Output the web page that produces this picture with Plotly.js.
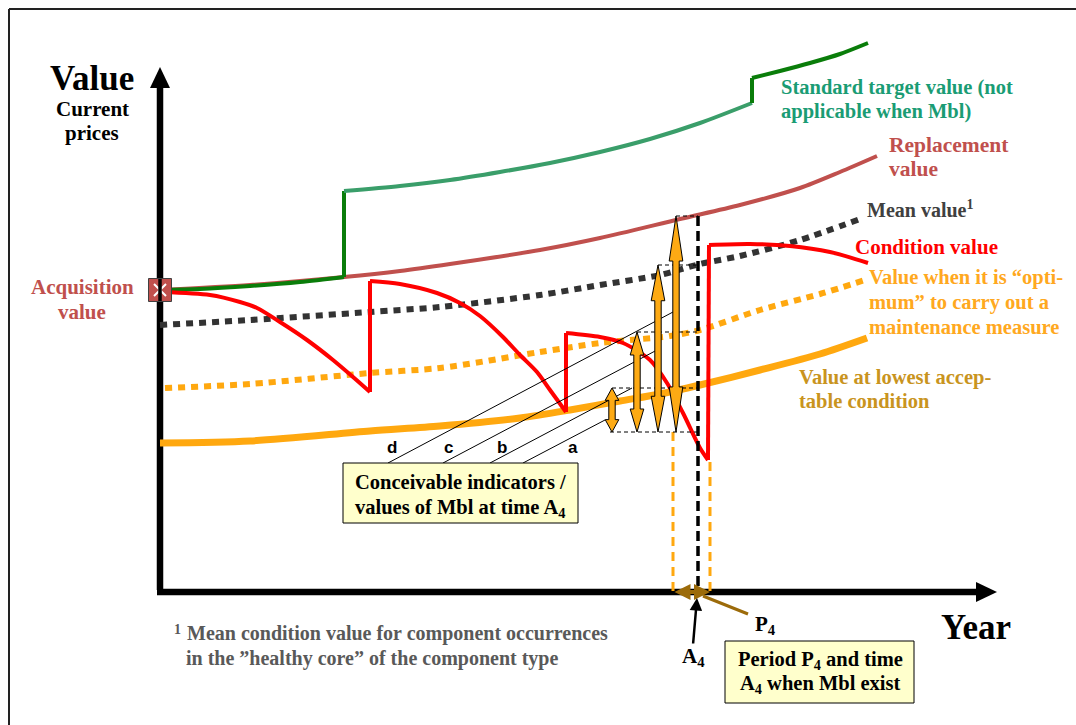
<!DOCTYPE html>
<html><head><meta charset="utf-8">
<script src="https://cdn.plot.ly/plotly-3.0.1.min.js"></script>
<style>html,body{margin:0;padding:0;background:#fff}#chart{width:1076px;height:725px}</style>
</head><body><div id="chart"></div>
<script>
// ---- DATA (x = time from origin, y = value) ----
// Standard target value: three segments separated by step increases
const targetX = [0,40,90,140,184, 184,240,290,340,390,440,490,540,592, 592,620,650,680,708];
const targetY = [302,303,306,310,315, 401,406,412,420,429,440,453,469,489, 514,521,529,538,549];
const targetBreaks = [0,5,14,19];
const replX = [0,90,184,240,290,380,440,520,580,640,680,717];
const replY = [302,307,315,321,328,342,354,373,387,404,420,436];
const meanX = [0,90,210,280,380,440,500,540,580,640,700];
const meanY = [267,272,280,285,297,307,317,328,336,352,373];
const optX = [5,90,210,280,380,440,510,540,600,660,705];
const optY = [204,208,219,224,240,249,256,262,282,298,312];
const lowX = [0,90,210,280,360,410,460,500,540,600,660,707];
const lowY = [149,151,161,166,174,182,191,198,207,222,238,254];
// Condition value: four decay segments separated by maintenance jumps
const condX = [2,50,80,97,120,147,173,193,210, 210,240,277,300,320,343,360,377,390,406, 406,440,463,490,507,523,540,548, 549,590,630,670,708];
const condY = [300,297,290,284,270,252,232,215,200, 311,308,299,289,276,255,237,220,202,180, 259,255,249,232,209,179,144,132, 347,348,346,340,329];
const condBreaks = [0,9,19,27,32];
const acquisition = {x:0, y:302};
const a4X = 538, a4Top = 376;
const periodStart = 513, periodEnd = 550, periodStartTop = 160, periodEndTop = 130;
const arrowX = [452,477,498,516];
const arrowTop = [204,260,327,376];
const arrowBase = 160;
const indLabels = ['d','c','b','a'];
const indStartX = [228,283,330,363];
const indStartY = 129;
const indEndX = [513,497,472,445];
const indEndY = [280,242,204,172];
const indLabelX = [232,288,342,413];
const axisTipX = 837, axisTipY = 525;

const SERIF = '"Liberation Serif", "Times New Roman", serif';
const traces = [];
function line(x,y,color,width,dash,smooth){
  traces.push({x,y,type:'scatter',mode:'lines',line:{color,width,dash:dash||'solid',shape:smooth?'spline':'linear',smoothing:smooth?0.8:undefined},hoverinfo:'skip'});
}
function segmented(xs,ys,breaks,color,width,colors){
  for(let i=0;i<breaks.length-1;i++){
    const a=breaks[i], b=breaks[i+1];
    line(xs.slice(a,b),ys.slice(a,b),(colors&&colors[i])||color,width,null,true);
    if(i<breaks.length-2){ line([xs[b-1],xs[b]],[ys[b-1],ys[b]],color,width); }
  }
}

// axes
line([0,0],[2,axisTipY-20],'#000',6.5);
line([-3,axisTipX-20],[0,0],'#000',6.5);

// curves
line(replX,replY,'#C0504D',4,null,true);
segmented(targetX,targetY,targetBreaks,'#0A7D0A',4,['#0A7D0A','#3A9E6A','#0A7D0A']);
line(meanX,meanY,'#333333',6,'7px,6px',true);
line(optX,optY,'#FFA80F',6,'7px,6px',true);
line(lowX,lowY,'#FFA80F',7,null,true);
segmented(condX,condY,condBreaks,'#FF0000',4);

// A4 and period lines
line([a4X,a4X],[a4Top,0],'#000',3.5,'10px,5px');
line([periodStart,periodStart],[periodStartTop,0],'#FFA80F',3,'9px,6px');
line([periodEnd,periodEnd],[periodEndTop,0],'#FFA80F',3,'9px,6px');

// guide dashed lines
arrowX.forEach((x,i)=>line([x,a4X],[arrowTop[i],arrowTop[i]],'#000',1,'4px,3px'));
line([arrowX[0]-2,a4X],[arrowBase,arrowBase],'#000',1,'4px,3px');

// indicator lines
indStartX.forEach((x,i)=>line([x,indEndX[i]],[indStartY,indEndY[i]],'#000',1));

// acquisition marker
traces.push({x:[acquisition.x],y:[acquisition.y],type:'scatter',mode:'markers',marker:{symbol:'square',size:23,color:'#C0504D',line:{color:'#404040',width:1}},hoverinfo:'skip'});
traces.push({x:[acquisition.x],y:[acquisition.y],type:'scatter',mode:'markers',marker:{symbol:'x-thin-open',size:12,color:'#ffffff',line:{color:'#ffffff',width:2}},hoverinfo:'skip'});
line([0,0],[acquisition.y-11,acquisition.y+11],'#000',3.5);

// shapes
const shapes = [];
function dblArrow(x,y0,y1){
  const hw=3.2, hh=6.8, hl=0.19*(y1-y0)+4;
  return `M ${x-hw},${y0+hl} L ${x-hh},${y0+hl} L ${x},${y0} L ${x+hh},${y0+hl} L ${x+hw},${y0+hl} L ${x+hw},${y1-hl} L ${x+hh},${y1-hl} L ${x},${y1} L ${x-hh},${y1-hl} L ${x-hw},${y1-hl} Z`;
}
arrowX.forEach((x,i)=>shapes.push({type:'path',xref:'x',yref:'y',path:dblArrow(x,arrowBase,arrowTop[i]),fillcolor:'#FDAA14',line:{color:'#000',width:1},layer:'above'}));
// axis arrowheads
shapes.push({type:'path',xref:'x',yref:'y',path:`M -10,${axisTipY-21} L 10,${axisTipY-21} L 0,${axisTipY} Z`,fillcolor:'#000',line:{width:0},layer:'above'});
shapes.push({type:'path',xref:'x',yref:'y',path:`M ${axisTipX-21},10 L ${axisTipX-21},-10 L ${axisTipX},0 Z`,fillcolor:'#000',line:{width:0},layer:'above'});
// boxes
shapes.push({type:'rect',xref:'x',yref:'y',x0:183,y0:69,x1:418,y1:129,fillcolor:'#FFFFCC',line:{color:'#000',width:1},layer:'above'});
shapes.push({type:'rect',xref:'x',yref:'y',x0:565,y0:-111,x1:754,y1:-49,fillcolor:'#FFFFCC',line:{color:'#000',width:1},layer:'above'});
// frame
shapes.push({type:'line',xref:'x',yref:'y',x0:-151,y0:583,x1:916,y1:583,line:{color:'#222',width:2}});
shapes.push({type:'line',xref:'x',yref:'y',x0:-151,y0:583,x1:-151,y1:-133,line:{color:'#222',width:2}});
// P4 pointer
shapes.push({type:'line',xref:'x',yref:'y',x0:543,y0:-4,x1:588,y1:-22,line:{color:'#9C6B0A',width:3}});

// annotations
const ann = [];
function T(x,y,text,size,color,anchor,family){
  ann.push({xref:'x',yref:'y',x,y,text:`<b>${text}</b>`,showarrow:false,xanchor:anchor||'left',yanchor:'middle',font:{family:family||SERIF,size,color}});
}
T(-68,514,'Value',35,'#000','center');
T(-68,483,'Current',21,'#000','center');
T(-68,459,'prices',21,'#000','center');
T(-78,305,'Acquisition',21,'#C0504D','center');
T(-78,280,'value',21,'#C0504D','center');
T(619,505,'Standard target value (not',20.5,'#1A9C74');
T(619,481,'applicable when Mbl)',20.5,'#1A9C74');
T(727,447,'Replacement',21.5,'#C0504D');
T(727,423,'value',21.5,'#C0504D');
T(705,383,'Mean value<sup>1</sup>',20,'#404040');
T(693,345,'Condition value',21,'#FF0000');
T(707,315,'Value when it is “opti-',20.5,'#FFA820');
T(707,290,'mum” to carry out a',20.5,'#FFA820');
T(707,265,'maintenance measure',20.5,'#FFA820');
T(637,215,'Value at lowest accep-',20.5,'#C9941E');
T(637,191,'table condition',20.5,'#C9941E');
T(12,-37,'<sup>1</sup>',20,'#595959');
T(25,-41,'Mean condition value for component occurrences',20,'#595959');
T(24,-66,'in the ”healthy core” of the component type',20,'#595959');
T(300,110,'Conceivable indicators /',20.5,'#000','center');
T(300,84,'values of Mbl at time A<sub>4</sub>',20.5,'#000','center');
T(660,-68,'Period P<sub>4</sub> and time',20.5,'#000','center');
T(660,-92,'A<sub>4</sub> when Mbl exist',20.5,'#000','center');
T(593,-33,'P<sub>4</sub>',21,'#000');
T(520,-65,'A<sub>4</sub>',21,'#000');
T(779,-35,'Year',35,'#000');
indLabels.forEach((l,i)=>T(indLabelX[i],145,l,17,'#000','center','"Liberation Sans", Arial, sans-serif'));
// P4 double arrow
ann.push({xref:'x',yref:'y',axref:'x',ayref:'y',x:periodEnd,y:0,ax:periodStart,ay:0,text:'',showarrow:true,arrowside:'end+start',arrowhead:2,arrowsize:0.8,arrowwidth:4,arrowcolor:'#9C6B0A'});
// A4 pointer arrow
ann.push({xref:'x',yref:'y',axref:'x',ayref:'y',x:537,y:-6,ax:533,ay:-53,text:'',showarrow:true,arrowhead:2,arrowsize:1,arrowwidth:2.5,arrowcolor:'#000'});

const layout = {
  width:1076,height:725,autosize:false,showlegend:false,
  margin:{l:0,r:0,t:0,b:0,pad:0},
  paper_bgcolor:'#fff',plot_bgcolor:'#fff',
  xaxis:{range:[-160,916],visible:false,fixedrange:true},
  yaxis:{range:[-133,592],visible:false,fixedrange:true},
  shapes, annotations:ann
};
Plotly.newPlot('chart',traces,layout,{staticPlot:true,displayModeBar:false});
</script></body></html>
